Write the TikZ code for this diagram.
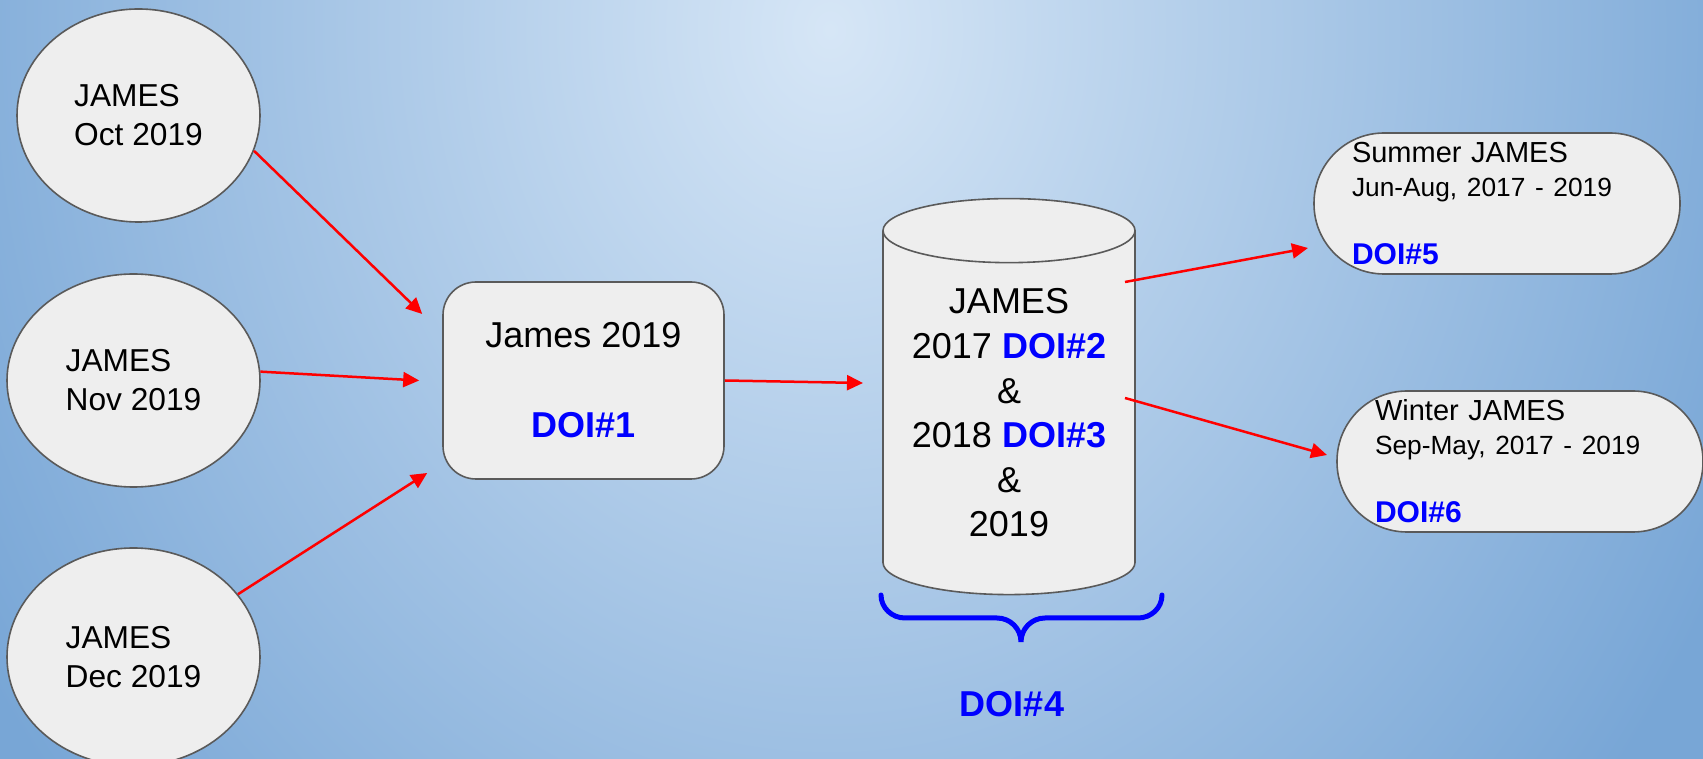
\documentclass[tikz,border=0pt]{standalone}
\usepackage{fontspec}
\setmainfont{Liberation Sans}
\usetikzlibrary{shapes.geometric, arrows.meta}

\definecolor{paper}{HTML}{EEEEEE}
\definecolor{rim}{HTML}{5A5A5A}
\definecolor{bglight}{HTML}{D6E6F6}
\definecolor{bgdark}{HTML}{78A6D6}
\newcommand{\doinum}[1]{\textcolor{blue}{\bfseries #1}}

\begin{document}
\begin{tikzpicture}[
  x=1pt, y=1pt,
  card/.style={draw=rim, line width=1.6pt, fill=paper, inner sep=0pt},
  issue/.style={card, ellipse, align=left, font=\fontsize{31.7}{39}\selectfont},
  volume/.style={card, rectangle, rounded corners=33pt, minimum width=281pt, minimum height=197pt, align=center, font=\fontsize{36}{45}\selectfont},
  store/.style={card, cylinder, shape border rotate=90, shape aspect=0.33, minimum width=252pt, minimum height=396pt,
    cylinder uses custom fill, cylinder body fill=paper, cylinder end fill=paper!40!white, align=center, font=\fontsize{36}{44.6}\selectfont},
  season/.style={card, rectangle, rounded corners=70pt, minimum width=366pt, minimum height=141pt, text width=290pt, align=left, font=\fontsize{29}{34}\selectfont},
  tag/.style={font=\fontsize{36}{40}\selectfont},
  flow/.style={draw=red, line width=2.5pt, -{Triangle[length=16pt, width=15pt]}}
]
\useasboundingbox (0,0) rectangle (1703,758);
\begin{scope}
  \clip (-6,-6) rectangle (1709,764);
  \fill[bgdark] (-6,-6) rectangle (1709,764);
  \shade[inner color=bglight, outer color=bgdark] (830,728) ellipse (1000 and 1200);
\end{scope}

% monthly issues
\node[issue, minimum width=243pt, minimum height=213pt] (oct) at (138.5,642.5) {JAMES\\Oct 2019};
\node[issue, minimum width=253pt, minimum height=213pt] (nov) at (133.5,377.5) {JAMES\\Nov 2019};
\node[issue, minimum width=253pt, minimum height=218pt] (dec) at (133.5,101) {JAMES\\Dec 2019};

% yearly volume and archive
\node[volume] (vol) at (583.5,377.5) {James 2019\\[45pt]\doinum{DOI\#1}};
\node[store] (db) at (1009,345) {JAMES\\2017 \doinum{DOI\#2}\\\&\\2018 \doinum{DOI\#3}\\\&\\2019};

% seasonal subsets
\node[season] (summer) at (1497,554.5) {Summer JAMES\\{\fontsize{26.3}{34}\selectfont Jun-Aug, 2017 - 2019}\\[34pt]{\fontsize{30}{34}\selectfont\doinum{DOI\#5}}};
\node[season] (winter) at (1520,296.5) {Winter JAMES\\{\fontsize{26.3}{34}\selectfont Sep-May, 2017 - 2019}\\[34pt]{\fontsize{30}{34}\selectfont\doinum{DOI\#6}}};

\node[tag] (doi4) at (1012,53.5) {\doinum{DOI\#4}};

\draw[flow] (oct.-17) -- ([shift={(-20,66.5)}]vol.west);
\draw[flow] (nov.4) -- ([xshift=-23pt]vol.west);
\draw[flow] (dec.31) -- ([shift={(-15,-92.5)}]vol.west);
\draw[flow] (vol.east) -- ([shift={(-146,30)}]db.center);
\draw[flow] ([shift={(116,131)}]db.center) -- ([shift={(-189,-44.5)}]summer.center);
\draw[flow] ([shift={(116,15)}]db.center) -- ([shift={(-193,6.5)}]winter.center);

% brace under the archive
\draw[blue, line width=5pt, line cap=round] (881,163) to[out=-90,in=180] (905,140) -- (997,140)
  to[out=0,in=90] (1021,116) to[out=90,in=180] (1045,140) -- (1138,140) to[out=0,in=-90] (1162,163);
\end{tikzpicture}
\end{document}
